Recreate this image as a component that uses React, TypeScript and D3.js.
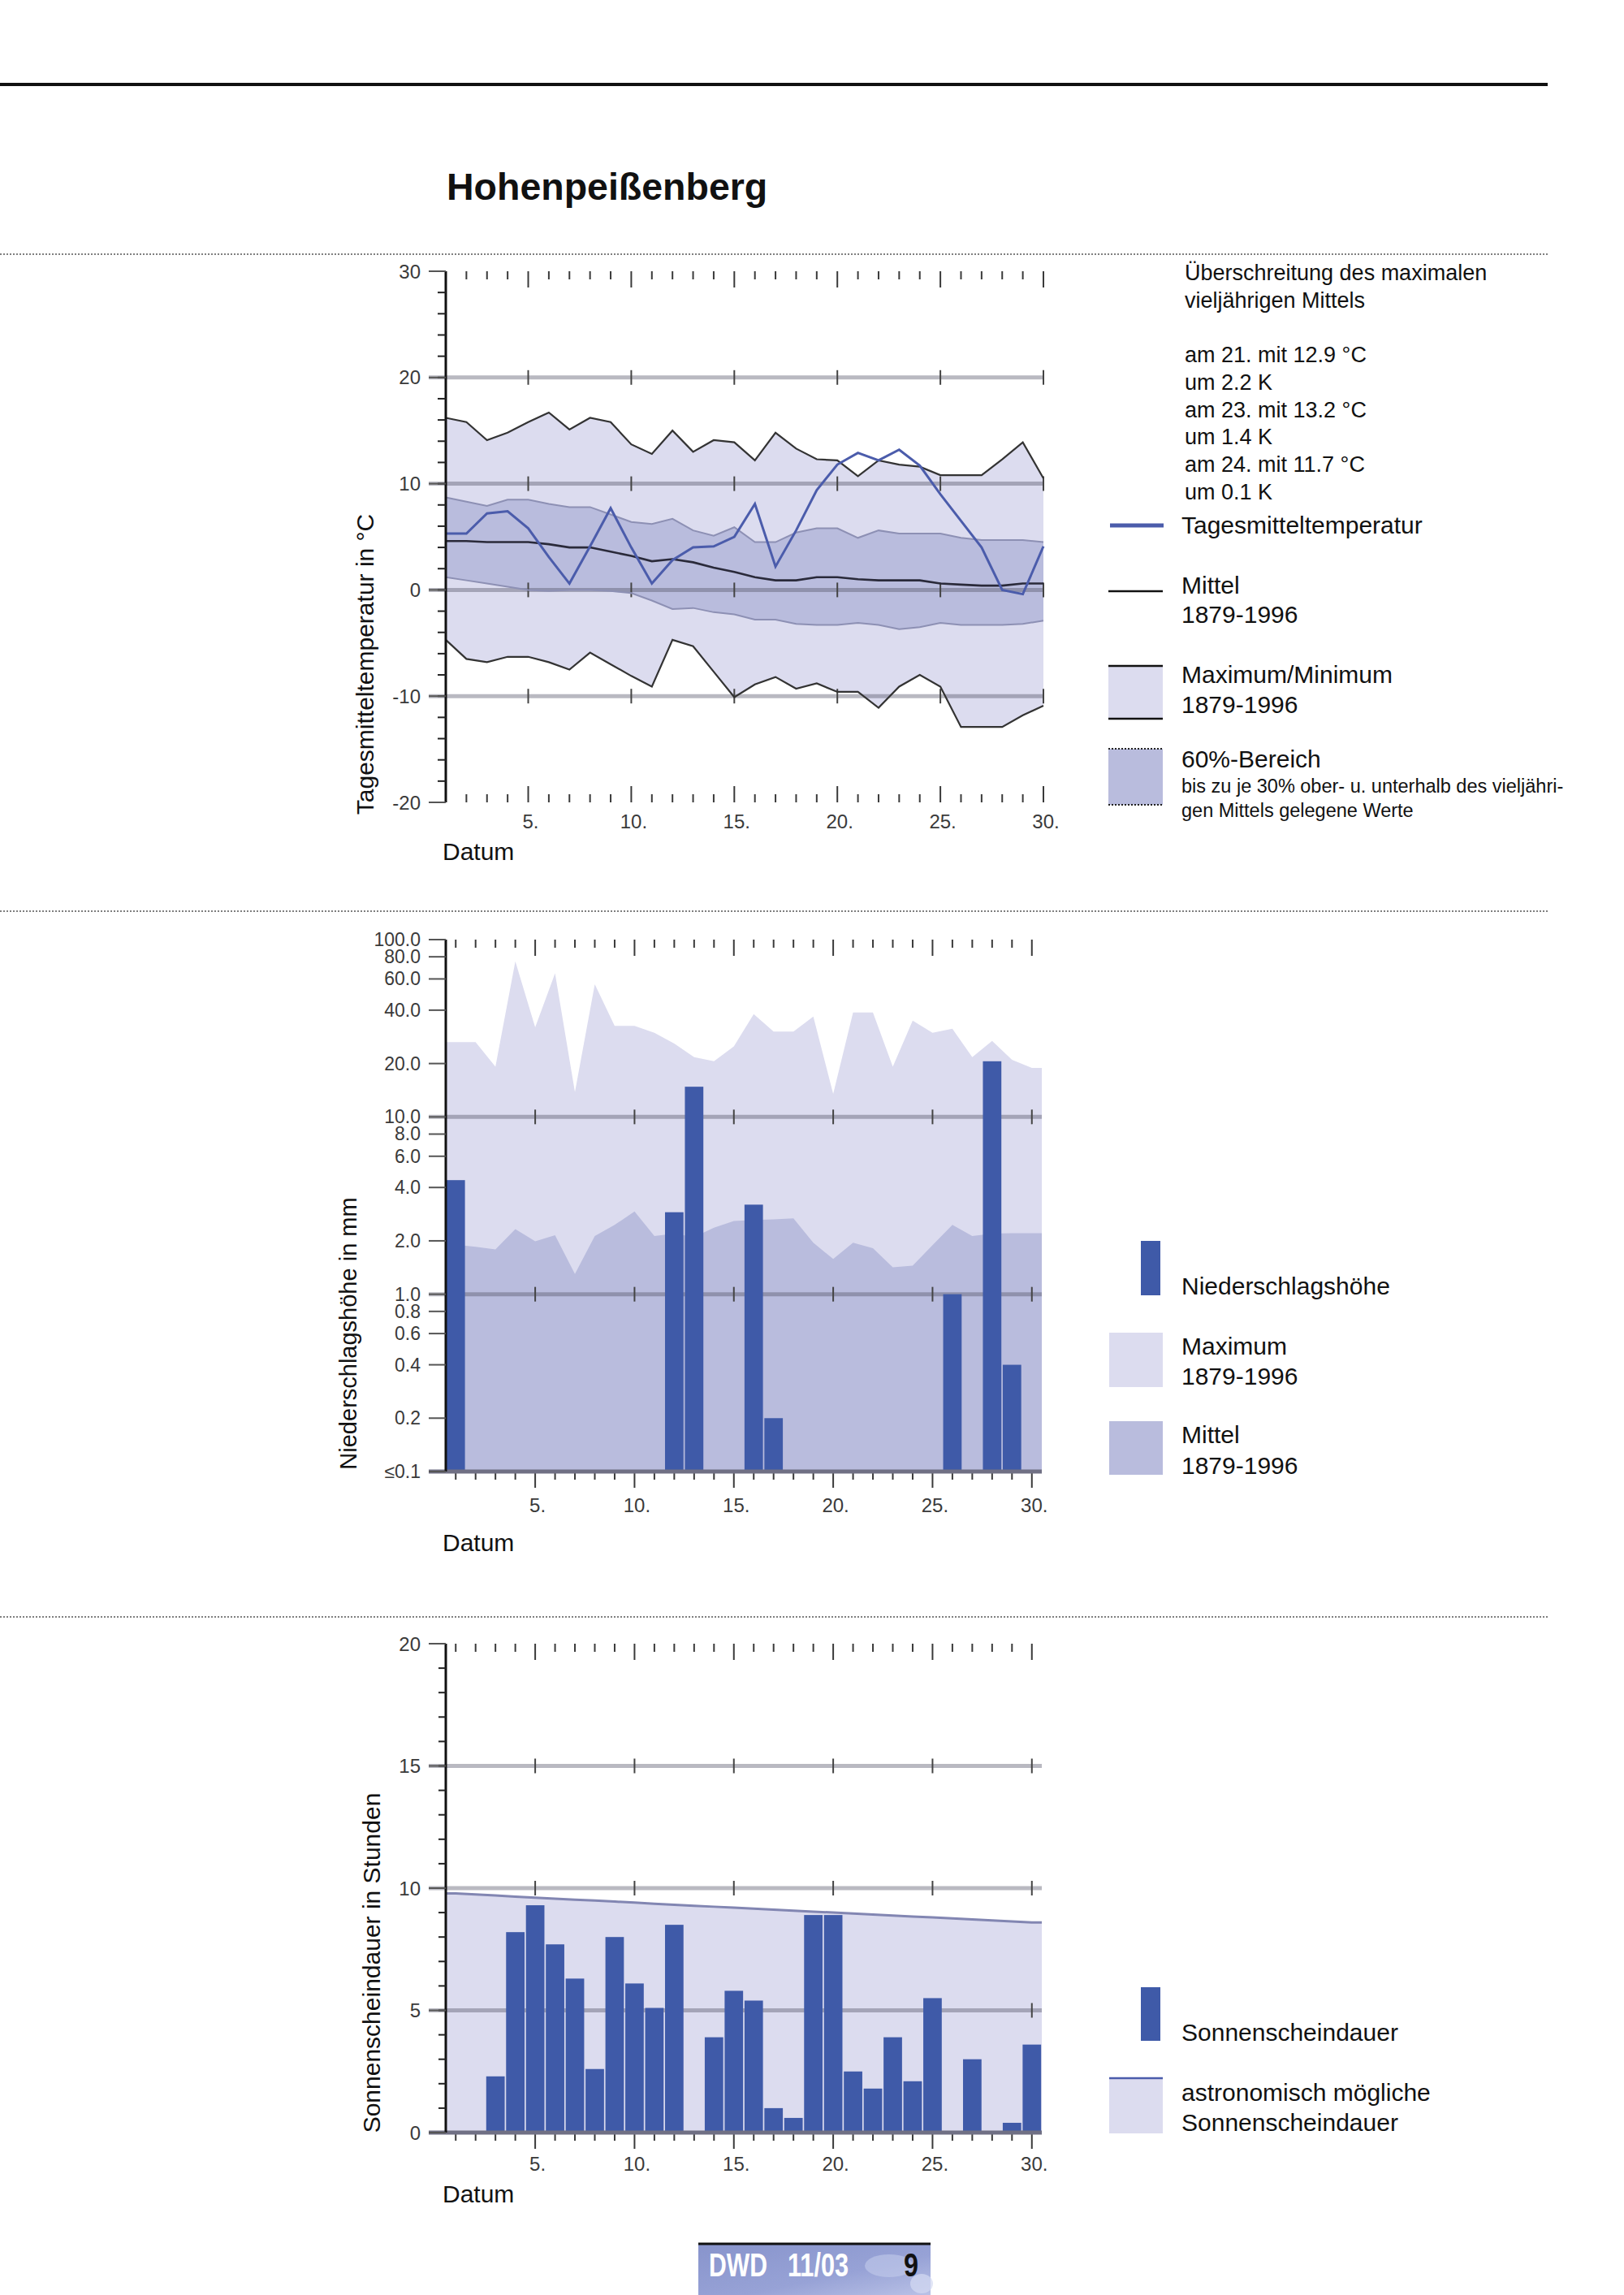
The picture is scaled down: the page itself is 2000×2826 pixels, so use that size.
import * as d3 from 'd3';

// ---- data ----
const days = [1, 2, 3, 4, 5, 6, 7, 8, 9, 10, 11, 12, 13, 14, 15, 16, 17, 18, 19, 20, 21, 22, 23, 24, 25, 26, 27, 28, 29, 30];
const dayLabels = ['5.', '10.', '15.', '20.', '25.', '30.'];

// Temperatur in °C
const tempDaily = [5.3, 5.3, 7.2, 7.4, 5.8, 3.1, 0.6, 4.1, 7.7, 4.0, 0.6, 2.8, 4.0, 4.1, 5.0, 8.1, 2.2, 5.6, 9.4, 11.8, 12.9, 12.2, 13.2, 11.7, 9.0, 6.5, 4.0, 0.0, -0.4, 4.1];
const tempMean = [4.6, 4.6, 4.5, 4.5, 4.5, 4.3, 4.0, 4.0, 3.6, 3.2, 2.7, 2.9, 2.6, 2.1, 1.7, 1.2, 0.9, 0.9, 1.2, 1.2, 1.0, 0.9, 0.9, 0.9, 0.6, 0.5, 0.4, 0.4, 0.6, 0.6];
const tempMax = [16.2, 15.8, 14.1, 14.8, 15.8, 16.7, 15.1, 16.2, 15.8, 13.7, 12.8, 15.0, 13.0, 14.1, 13.9, 12.2, 14.8, 13.3, 12.3, 12.2, 10.7, 12.2, 11.8, 11.6, 10.8, 10.8, 10.8, 12.3, 13.9, 10.5];
const tempMin = [-4.7, -6.5, -6.8, -6.3, -6.3, -6.8, -7.5, -5.9, -7.0, -8.1, -9.1, -4.7, -5.3, -7.7, -10.1, -8.9, -8.2, -9.3, -8.8, -9.6, -9.6, -11.1, -9.1, -8.0, -9.1, -12.9, -12.9, -12.9, -11.8, -10.9];
const temp60Hi = [8.7, 8.3, 7.9, 8.5, 8.5, 8.1, 7.8, 7.8, 7.1, 6.4, 6.2, 6.7, 5.6, 5.1, 5.9, 4.5, 4.5, 5.4, 5.8, 5.8, 4.9, 5.6, 5.3, 5.3, 5.3, 4.9, 4.7, 4.7, 4.7, 4.5];
const temp60Lo = [1.2, 0.9, 0.6, 0.3, 0.0, -0.1, 0.0, 0.0, -0.1, -0.3, -1.0, -1.8, -1.7, -2.1, -2.3, -2.8, -2.8, -3.2, -3.3, -3.3, -3.1, -3.3, -3.7, -3.5, -3.1, -3.3, -3.3, -3.3, -3.2, -2.9];
const tempTicks = [30, 20, 10, 0, -10, -20];
const tempTickLabels = ['30', '20', '10', '0', '-10', '-20'];
const tempGrid = [20, 10, 0, -10];

// Niederschlag in mm
const precip = [4.4, 0, 0, 0, 0, 0, 0, 0, 0, 0, 0, 2.9, 14.8, 0, 0, 3.2, 0.2, 0, 0, 0, 0, 0, 0, 0, 0, 1.0, 0, 20.6, 0.4, 0];
const precipMax = [26.4, 26.4, 19.2, 75.5, 32, 64.5, 13.8, 56, 32.6, 32.6, 29.8, 25.9, 21.7, 20.6, 25, 38, 30.3, 30.3, 36.8, 13.5, 38.8, 38.8, 19.2, 34.9, 29.8, 31.4, 21.7, 26.8, 21, 18.9];
const precipMean = [1.9, 1.85, 1.79, 2.33, 1.99, 2.15, 1.3, 2.13, 2.46, 2.93, 2.13, 2.2, 2.1, 2.37, 2.59, 2.62, 2.64, 2.68, 1.95, 1.58, 1.95, 1.82, 1.42, 1.45, 1.89, 2.46, 2.13, 2.2, 2.21, 2.21];
const precipTicks = [100, 80, 60, 40, 20, 10, 8, 6, 4, 2, 1, 0.8, 0.6, 0.4, 0.2, 0.1];
const precipTickLabels = ['100.0', '80.0', '60.0', '40.0', '20.0', '10.0', '8.0', '6.0', '4.0', '2.0', '1.0', '0.8', '0.6', '0.4', '0.2', '≤0.1'];
const precipGrid = [10, 1];

// Sonnenscheindauer in Stunden
const sun = [0, 0, 2.3, 8.2, 9.3, 7.7, 6.3, 2.6, 8.0, 6.1, 5.1, 8.5, 0, 3.9, 5.8, 5.4, 1.0, 0.6, 8.9, 8.9, 2.5, 1.8, 3.9, 2.1, 5.5, 0, 3.0, 0, 0.4, 3.6];
const sunPossible = [9.78, 9.74, 9.7, 9.65, 9.61, 9.57, 9.53, 9.49, 9.45, 9.41, 9.36, 9.32, 9.28, 9.24, 9.2, 9.16, 9.12, 9.08, 9.04, 9.0, 8.96, 8.92, 8.88, 8.84, 8.8, 8.76, 8.72, 8.68, 8.64, 8.6];
const sunTicks = [20, 15, 10, 5, 0];
const sunGrid = [15, 10, 5];

// ---- styles ----
const FONT = '"Liberation Sans", Arial, Helvetica, sans-serif';
const OUTER = '#dcdcef';
const INNER = '#b9bcdd';
const BAR = '#3f5aa8';
const BLUE = '#4b5cab';
const GRID = 'rgba(80,80,100,0.4)';
const TICK = '#3a3a3a';

type Pt = { d: number; v: number };
const padEnds = (vals: number[]): Pt[] => [
  { d: 0.5, v: vals[0] },
  ...days.map((d, i) => ({ d, v: vals[i] })),
  { d: 30.5, v: vals[vals.length - 1] },
];

function DayTicks({ x, y, dir, skipFirst }: { x: d3.ScaleLinear<number, number>; y: number; dir: number; skipFirst?: boolean }) {
  return (
    <g stroke={TICK} strokeWidth={2}>
      {days.filter((d) => !(skipFirst && d === 1)).map((d) => (
        <line key={d} x1={x(d)} x2={x(d)} y1={y} y2={y + dir * (d % 5 === 0 ? 20 : 10)} />
      ))}
    </g>
  );
}

function DayLabels({ x, y, datumGap = 39 }: { x: d3.ScaleLinear<number, number>; y: number; datumGap?: number }) {
  return (
    <g fontFamily={FONT} fontSize={24} fill="#3a3a3a">
      {dayLabels.map((t, i) => (
        <text key={t} x={x((i + 1) * 5) + 3} y={y} textAnchor="middle">{t}</text>
      ))}
      <text x={545} y={y + datumGap} fontSize={30} fill="#111">Datum</text>
    </g>
  );
}

function GridLines({ vals, y, x, x0, x1 }: { vals: number[]; y: (v: number) => number; x: d3.ScaleLinear<number, number>; x0: number; x1: number }) {
  return (
    <g>
      {vals.map((v) => (
        <g key={v}>
          <line x1={x0} x2={x1} y1={y(v)} y2={y(v)} stroke={GRID} strokeWidth={5} />
          {[5, 10, 15, 20, 25, 30].map((d) => (
            <line key={d} x1={x(d)} x2={x(d)} y1={y(v) - 9} y2={y(v) + 9} stroke="#444" strokeWidth={2} />
          ))}
        </g>
      ))}
    </g>
  );
}

function TempChart() {
  const x = d3.scaleLinear().domain([1, 30]).range([549, 1285]);
  const y = d3.scaleLinear().domain([-20, 30]).range([988, 334]);
  const band = (lo: number[], hi: number[]) =>
    d3.area<number>().x((d) => x(d)).y0((d, i) => y(lo[i])).y1((d, i) => y(hi[i]))(days) || '';
  const line = (vals: number[]) => d3.line<number>().x((d) => x(d)).y((d, i) => y(vals[i]))(days) || '';
  const minor = d3.range(-20, 31, 2);
  return (
    <g>
      <path d={band(tempMin, tempMax)} fill={OUTER} />
      <path d={band(temp60Lo, temp60Hi)} fill={INNER} />
      <GridLines vals={tempGrid} y={y} x={x} x0={528} x1={1285} />
      <path d={line(temp60Hi)} fill="none" stroke="#8d90b4" strokeWidth={2} />
      <path d={line(temp60Lo)} fill="none" stroke="#8d90b4" strokeWidth={2} />
      <path d={line(tempMax)} fill="none" stroke="#333" strokeWidth={2.2} />
      <path d={line(tempMin)} fill="none" stroke="#333" strokeWidth={2.2} />
      <path d={line(tempMean)} fill="none" stroke="#2a2a3a" strokeWidth={2.6} />
      <path d={line(tempDaily)} fill="none" stroke={BLUE} strokeWidth={3} />
      <DayTicks x={x} y={y(30)} dir={1} skipFirst />
      <DayTicks x={x} y={y(-20)} dir={-1} skipFirst />
      <line x1={549} x2={549} y1={y(30)} y2={y(-20)} stroke="#111" strokeWidth={3} />
      {minor.map((v) => (
        <line key={v} x1={539} x2={549} y1={y(v)} y2={y(v)} stroke="#222" strokeWidth={2} />
      ))}
      {tempTicks.map((v, i) => (
        <g key={v}>
          <line x1={528} x2={549} y1={y(v)} y2={y(v)} stroke="#555" strokeWidth={2} />
          <text x={518} y={y(v) + 8.5} textAnchor="end" fontFamily={FONT} fontSize={24} fill="#3a3a3a">{tempTickLabels[i]}</text>
        </g>
      ))}
      <DayLabels x={x} y={1020} />
      <text transform="translate(460,818) rotate(-90)" textAnchor="middle" fontFamily={FONT} fontSize={30} fill="#111">Tagesmitteltemperatur in °C</text>
    </g>
  );
}

function PrecipChart() {
  const x = d3.scaleLinear().domain([0.5, 30.5]).range([549, 1283]);
  const band = d3.scaleBand<number>().domain(days).range([549, 1283]).paddingInner(0.07).paddingOuter(0.035);
  const y = d3.scaleLog().domain([0.1, 100]).range([1812, 1157]);
  const area = (vals: number[]) =>
    d3.area<Pt>().x((p) => x(p.d)).y0(y(0.1)).y1((p) => y(p.v))(padEnds(vals)) || '';
  return (
    <g>
      <path d={area(precipMax)} fill={OUTER} />
      <path d={area(precipMean)} fill={INNER} />
      <GridLines vals={precipGrid} y={y} x={x} x0={528} x1={1283} />
      {days.map((d, i) =>
        precip[i] > 0.1 ? (
          <rect key={d} x={band(d)} width={band.bandwidth()} y={y(precip[i])} height={y(0.1) - y(precip[i])} fill={BAR} />
        ) : null
      )}
      <DayTicks x={x} y={y(100)} dir={1} />
      <DayTicks x={x} y={y(0.1)} dir={1} />
      <line x1={528} x2={1283} y1={y(0.1)} y2={y(0.1)} stroke="#707084" strokeWidth={5} />
      <line x1={549} x2={549} y1={y(100)} y2={y(0.1)} stroke="#111" strokeWidth={3} />
      {precipTicks.map((v, i) => (
        <g key={v}>
          <line x1={528} x2={549} y1={y(v)} y2={y(v)} stroke="#555" strokeWidth={2} />
          <text x={518} y={y(v) + 8} textAnchor="end" fontFamily={FONT} fontSize={23} fill="#3a3a3a">{precipTickLabels[i]}</text>
        </g>
      ))}
      <DayLabels x={x} y={1862} datumGap={48} />
      <text transform="translate(439,1642) rotate(-90)" textAnchor="middle" fontFamily={FONT} fontSize={29} fill="#111">Niederschlagshöhe in mm</text>
    </g>
  );
}

function SunChart() {
  const x = d3.scaleLinear().domain([0.5, 30.5]).range([549, 1283]);
  const band = d3.scaleBand<number>().domain(days).range([549, 1283]).paddingInner(0.07).paddingOuter(0.035);
  const y = d3.scaleLinear().domain([0, 20]).range([2626, 2024]);
  const pts = padEnds(sunPossible);
  const area = d3.area<Pt>().x((p) => x(p.d)).y0(y(0)).y1((p) => y(p.v))(pts) || '';
  const top = d3.line<Pt>().x((p) => x(p.d)).y((p) => y(p.v))(pts) || '';
  return (
    <g>
      <path d={area} fill={OUTER} />
      <path d={top} fill="none" stroke="#8286b2" strokeWidth={3} />
      <GridLines vals={sunGrid} y={y} x={x} x0={528} x1={1283} />
      {days.map((d, i) =>
        sun[i] > 0 ? (
          <rect key={d} x={band(d)} width={band.bandwidth()} y={y(sun[i])} height={y(0) - y(sun[i])} fill={BAR} />
        ) : null
      )}
      <DayTicks x={x} y={y(20)} dir={1} />
      <DayTicks x={x} y={y(0)} dir={1} />
      <line x1={528} x2={1283} y1={y(0)} y2={y(0)} stroke="#707084" strokeWidth={5} />
      <line x1={549} x2={549} y1={y(20)} y2={y(0)} stroke="#111" strokeWidth={3} />
      {d3.range(0, 21, 1).map((v) => (
        <line key={v} x1={540} x2={549} y1={y(v)} y2={y(v)} stroke="#222" strokeWidth={2} />
      ))}
      {sunTicks.map((v) => (
        <g key={v}>
          <line x1={528} x2={549} y1={y(v)} y2={y(v)} stroke="#555" strokeWidth={2} />
          <text x={518} y={y(v) + 8.5} textAnchor="end" fontFamily={FONT} fontSize={24} fill="#3a3a3a">{v}</text>
        </g>
      ))}
      <DayLabels x={x} y={2673} />
      <text transform="translate(468,2417) rotate(-90)" textAnchor="middle" fontFamily={FONT} fontSize={30} fill="#111">Sonnenscheindauer in Stunden</text>
    </g>
  );
}

function Legends() {
  const note = ['am 21. mit 12.9 °C', 'um 2.2 K', 'am 23. mit 13.2 °C', 'um 1.4 K', 'am 24. mit 11.7 °C', 'um 0.1 K'];
  const T = (props: { x?: number; y: number; s?: number; children: string }) => (
    <text x={props.x ?? 1455} y={props.y} fontFamily={FONT} fontSize={props.s ?? 30} fill="#111">{props.children}</text>
  );
  return (
    <g>
      <T x={1459} y={345} s={27}>Überschreitung des maximalen</T>
      <T x={1459} y={379} s={27}>vieljährigen Mittels</T>
      {note.map((t, i) => (
        <T key={t} x={1459} y={446 + i * 33.8} s={27}>{t}</T>
      ))}
      <line x1={1367} x2={1433} y1={647} y2={647} stroke={BLUE} strokeWidth={5} />
      <T y={657}>Tagesmitteltemperatur</T>
      <line x1={1365} x2={1432} y1={728} y2={728} stroke="#111" strokeWidth={2.5} />
      <T y={731}>Mittel</T>
      <T y={767}>1879-1996</T>
      <rect x={1365} y={820} width={67} height={65} fill={OUTER} />
      <line x1={1365} x2={1432} y1={820} y2={820} stroke="#111" strokeWidth={2.5} />
      <line x1={1365} x2={1432} y1={885} y2={885} stroke="#111" strokeWidth={2.5} />
      <T y={841}>Maximum/Minimum</T>
      <T y={878}>1879-1996</T>
      <rect x={1365} y={922} width={67} height={69} fill={INNER} />
      <line x1={1365} x2={1432} y1={922} y2={922} stroke="#222" strokeWidth={2} strokeDasharray="2 2" />
      <line x1={1365} x2={1432} y1={991} y2={991} stroke="#222" strokeWidth={2} strokeDasharray="2 2" />
      <T y={945}>60%-Bereich</T>
      <T y={976} s={23.5}>bis zu je 30% ober- u. unterhalb des vieljähri-</T>
      <T y={1006} s={23.5}>gen Mittels gelegene Werte</T>

      <rect x={1405} y={1528} width={24} height={67} fill={BAR} />
      <T y={1594}>Niederschlagshöhe</T>
      <rect x={1366} y={1641} width={66} height={67} fill={OUTER} />
      <T y={1668}>Maximum</T>
      <T y={1705}>1879-1996</T>
      <rect x={1366} y={1750} width={66} height={66} fill={INNER} />
      <T y={1777}>Mittel</T>
      <T y={1815}>1879-1996</T>

      <rect x={1405} y={2447} width={24} height={66} fill={BAR} />
      <T y={2513}>Sonnenscheindauer</T>
      <rect x={1366} y={2558} width={66} height={69} fill={OUTER} />
      <line x1={1366} x2={1432} y1={2559} y2={2559} stroke={BLUE} strokeWidth={2.5} />
      <T y={2587}>astronomisch mögliche</T>
      <T y={2624}>Sonnenscheindauer</T>
    </g>
  );
}

function Footer() {
  return (
    <g>
      <defs>
        <linearGradient id="dwdsky" x1="0" x2="1" y1="0" y2="1">
          <stop offset="0" stopColor="#8894cc" />
          <stop offset="0.6" stopColor="#97a2d6" />
          <stop offset="1" stopColor="#b9c1e6" />
        </linearGradient>
      </defs>
      <rect x={860} y={2764} width={286} height={62} fill="url(#dwdsky)" />
      <ellipse cx={1095} cy={2790} rx={30} ry={14} fill="#c3cbeb" opacity={0.6} />
      <ellipse cx={1135} cy={2812} rx={14} ry={12} fill="#d4daf2" opacity={0.7} />
      <line x1={860} x2={1146} y1={2763} y2={2763} stroke="#111" strokeWidth={3} />
      <g fontFamily={FONT} fontWeight="bold" fontSize={40}>
        <text x={873} y={2803} fill="#fff" textLength={72} lengthAdjust="spacingAndGlyphs">DWD</text>
        <text x={970} y={2803} fill="#fff" textLength={75} lengthAdjust="spacingAndGlyphs">11/03</text>
        <text x={1113} y={2803} fill="#111" textLength={18} lengthAdjust="spacingAndGlyphs">9</text>
      </g>
    </g>
  );
}

export default function App() {
  return (
    <svg width={2000} height={2826} style={{ position: 'absolute', left: 0, top: 0, background: '#fff' }}>
      <rect width={2000} height={2826} fill="#fff" />
      <line x1={0} x2={1906} y1={104} y2={104} stroke="#111" strokeWidth={4} />
      <text x={550} y={246} fontFamily={FONT} fontWeight="bold" fontSize={46.5} fill="#111">Hohenpeißenberg</text>
      {[313, 1122, 1991].map((yy) => (
        <line key={yy} x1={0} x2={1906} y1={yy} y2={yy} stroke="#555" strokeWidth={1.5} strokeDasharray="2 2" />
      ))}
      <TempChart />
      <PrecipChart />
      <SunChart />
      <Legends />
      <Footer />
    </svg>
  );
}
